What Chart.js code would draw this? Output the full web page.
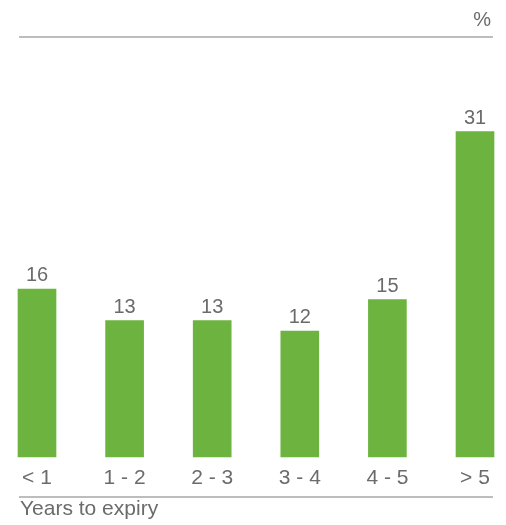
<!DOCTYPE html>
<html>
<head>
<meta charset="utf-8">
<script src="https://cdn.jsdelivr.net/npm/chart.js@4"></script>
<style>
  html, body { margin: 0; padding: 0; background: #fff; }
  .wrap { width: 506px; height: 525px; position: relative; }
</style>
</head>
<body>
<div class="wrap"><canvas id="expiryChart"></canvas></div>
<script>
const categories = ['< 1', '1 - 2', '2 - 3', '3 - 4', '4 - 5', '> 5'];
const shares = [16, 13, 13, 12, 15, 31];
const unitLabel = '%';
const axisTitle = 'Years to expiry';

const green = '#6cb33f';
const textColor = '#6b6b6b';
const ruleColor = '#a8a8a8';
const fontFamily = "'Liberation Sans', Arial, sans-serif";

// value labels, rules and captions around the plot
const decorations = {
  id: 'decorations',
  afterDatasetsDraw(chart) {
    const ctx = chart.ctx;
    const area = chart.chartArea;
    const meta = chart.getDatasetMeta(0);
    const left = area.left - 18;
    const right = area.right + 18;

    ctx.save();
    ctx.fillStyle = textColor;
    ctx.font = '20px ' + fontFamily;
    ctx.textAlign = 'center';
    ctx.textBaseline = 'alphabetic';
    meta.data.forEach((bar, i) => {
      ctx.fillText(String(shares[i]), bar.x, bar.y - 8);
    });

    ctx.strokeStyle = ruleColor;
    ctx.lineWidth = 1.5;
    ctx.beginPath();
    ctx.moveTo(left, area.top);
    ctx.lineTo(right, area.top);
    ctx.moveTo(left, area.bottom + 40);
    ctx.lineTo(right, area.bottom + 40);
    ctx.stroke();

    ctx.textAlign = 'right';
    ctx.fillText(unitLabel, right - 2, area.top - 11);
    ctx.font = '21px ' + fontFamily;
    ctx.textAlign = 'left';
    ctx.fillText(axisTitle, left + 1, area.bottom + 58);
    ctx.restore();
  }
};

new Chart(document.getElementById('expiryChart'), {
  type: 'bar',
  data: {
    labels: categories,
    datasets: [
      {
        data: shares,
        backgroundColor: green,
        borderWidth: 0,
        barThickness: 38,
        clip: false
      }
    ]
  },
  options: {
    responsive: true,
    maintainAspectRatio: false,
    animation: false,
    layout: {
      padding: { top: 37, left: 37, right: 31, bottom: 0 }
    },
    plugins: {
      legend: { display: false },
      tooltip: { enabled: false }
    },
    scales: {
      x: {
        offset: false,
        grid: { display: false, drawTicks: false },
        border: { display: false },
        ticks: {
          color: textColor,
          padding: 9,
          maxRotation: 0,
          font: { family: fontFamily, size: 21 }
        },
        afterFit(scale) {
          scale.height = 68;
        }
      },
      y: {
        display: false,
        min: 0,
        max: 40
      }
    }
  },
  plugins: [decorations]
});
</script>
</body>
</html>
